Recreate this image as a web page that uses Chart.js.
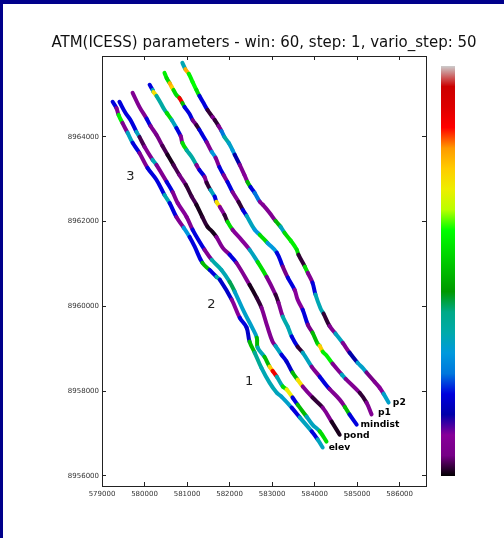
<!DOCTYPE html>
<html><head><meta charset="utf-8">
<style>
html,body{margin:0;padding:0;background:#fff;width:504px;height:538px;overflow:hidden}
#wrap{position:absolute;left:0;top:0;width:504px;height:538px;overflow:hidden}
#t{position:absolute;left:0;top:0;width:504px;height:4px;background:#00008b}
#l{position:absolute;left:0;top:0;width:3px;height:538px;background:#00008b}
</style>
<script src="https://cdn.jsdelivr.net/npm/chart.js@4"></script>
</head><body>
<div id="wrap"><canvas id="c" width="528" height="538"></canvas></div>
<div id="t"></div><div id="l"></div>
<script>
const titleText = "ATM(ICESS) parameters - win: 60, step: 1, vario_step: 50";
const xRange = [579000, 586620];
const yRange = [8955760, 8965910];
const xTicks = [579000,580000,581000,582000,583000,584000,585000,586000];
const yTicks = [8956000,8958000,8960000,8962000,8964000];

const p2X = [580890,580960,581040,581130,581220,581290,581410,581480,581600,581650,581740,581810,581880,581980,582070,582120,582240,582350,582420,582490,582590,582710,582780,582940,583080,583200,583290,583440,583580,583620,583770,583840,583950,584020,584140,584210,584350,584490,584660,584820,585010,585130,585220,585410,585530,585620,585740];
const p2Y = [8965750,8965600,8965490,8965300,8965110,8964970,8964760,8964640,8964470,8964400,8964260,8964140,8964000,8963860,8963690,8963580,8963340,8963100,8962940,8962820,8962680,8962470,8962400,8962210,8962020,8961880,8961740,8961550,8961340,8961220,8960940,8960790,8960560,8960280,8959950,8959830,8959540,8959360,8959140,8958910,8958670,8958550,8958440,8958220,8958080,8957940,8957730];
const p2V = [.34,.78,.58,.6,.55,.2,.2,.02,.08,.02,.08,.25,.36,.32,.3,.15,.08,.1,.5,.2,.25,.1,.08,.08,.5,.33,.55,.58,.55,.02,.55,.08,.2,.34,.34,.02,.08,.33,.08,.15,.32,.32,.05,.08,.1,.32,.32];

const p1X = [580470,580520,580590,580640,580680,580750,580820,580890,580940,581060,581130,581220,581290,581360,581460,581580,581670,581760,581860,581950,582070,582210,582310,582400,582590,582710,582890,583110,583250,583370,583530,583600,583720,583840,583950,584070,584120,584190,584280,584420,584640,584730,585060,585220,585340];
const p1Y = [8965510,8965390,8965270,8965180,8965110,8964990,8964920,8964800,8964710,8964540,8964400,8964280,8964170,8964050,8963880,8963650,8963510,8963290,8963100,8962940,8962700,8962470,8962280,8962140,8961810,8961690,8961500,8961270,8960940,8960680,8960390,8960160,8959920,8959570,8959380,8959120,8959070,8958930,8958840,8958650,8958390,8958290,8957960,8957730,8957450];
const p1V = [.58,.55,.78,.75,.55,.55,.87,.5,.2,.2,.05,.02,.2,.2,.08,.3,.08,.2,.08,.2,.08,.02,.2,.33,.3,.55,.3,.2,.05,.2,.1,.1,.2,.05,.5,.55,.75,.58,.58,.08,.33,.08,.02,.08,.2];

const mindistX = [580120,580190,580210,580280,580380,580470,580520,580640,580750,580850,580890,580990,581110,581220,581290,581410,581460,581550,581650,581690,581770,581880,581950,582070,582280,582470,582660,582870,583080,583150,583250,583370,583460,583600,583720,583930,584120,584280,584350,584590,584710,584820,584990];
const mindistY = [8965230,8965110,8965060,8964970,8964800,8964640,8964570,8964400,8964210,8964020,8963860,8963690,8963530,8963340,8963220,8963060,8962920,8962750,8962590,8962470,8962350,8962160,8962000,8961810,8961570,8961340,8961050,8960700,8960280,8960090,8959760,8959520,8959290,8959050,8958910,8958580,8958340,8958130,8958050,8957800,8957630,8957450,8957210];
const mindistV = [.2,.34,.72,.36,.36,.36,.55,.33,.2,.08,.55,.36,.36,.08,.2,.08,.02,.33,.2,.72,.1,.02,.55,.1,.1,.33,.55,.08,.02,.08,.35,.34,.2,.02,.33,.08,.2,.2,.08,.08,.5,.2,.2];

const pondX = [579720,579880,580050,580140,580280,580420,580540,580680,580820,580970,581110,581220,581360,581480,581580,581690,581840,582000,582160,582470,582640,582750,582890,583010,583080,583220,583340,583480,583600,583720,583950,584190,584400,584590];
const pondY = [8965040,8964710,8964430,8964260,8964050,8963790,8963580,8963340,8963100,8962870,8962590,8962400,8962110,8961880,8961780,8961640,8961380,8961220,8961030,8960510,8960200,8959970,8959520,8959170,8959070,8958860,8958700,8958440,8958270,8958110,8957850,8957610,8957280,8956970];
const pondV = [.08,.08,.2,.08,.05,.03,.01,.03,.05,.02,.03,.01,.02,.01,.01,.08,.08,.2,.08,.01,.02,.08,.08,.08,.33,.2,.18,.5,.72,.08,.02,.08,.01,.02];

const elevUpperX = [579410,579550,579670,579810,579880,580000,580190,580280,580520,580660,580780,580990,581130,581290,581410,581580,581810,582000,582120,582350,582520,582640,582660,582820,582940,583010,583110,583250,583340,583480,583600,583810,583950,584120,584280];
const elevUpperY = [8964830,8964570,8964400,8964120,8964000,8963770,8963460,8963340,8962940,8962700,8962440,8962110,8961810,8961530,8961340,8961100,8960860,8960580,8960350,8959850,8959520,8959260,8959030,8958810,8958580,8958480,8958340,8958110,8958040,8957850,8957680,8957400,8957210,8957050,8956810];
const elevUpperV = [.2,.2,.2,.33,.03,.08,.34,.08,.2,.08,.1,.08,.2,.2,.08,.35,.34,.42,.32,.32,.32,.5,.34,.5,.75,.87,.34,.55,.7,.2,.5,.33,.33,.55,.34];

const elevX = [579250,579340,579390,579480,579600,579720,579880,580070,580280,580470,580590,580750,580920,581060,581180,581360,581530,581690,581770,582050,582240,582400,582470,582590,582750,582940,583110,583220,583460,583650,583930,584070,584190];
const elevY = [8964830,8964680,8964520,8964330,8964100,8963860,8963620,8963270,8962990,8962630,8962440,8962110,8961860,8961640,8961410,8961030,8960860,8960700,8960630,8960160,8959730,8959500,8959170,8958910,8958550,8958200,8957960,8957870,8957610,8957380,8957050,8956860,8956670];
const elevV = [.2,.08,.58,.08,.33,.2,.08,.2,.2,.34,.2,.08,.3,.2,.2,.5,.2,.36,.18,.1,.2,.18,.5,.38,.34,.34,.33,.32,.2,.33,.2,.33,.5];

const noteTexts = ["p2","p1","mindist","pond","elev"];
const noteX = [585840,585490,585080,584680,584330];
const noteY = [8957730,8957500,8957210,8956950,8956670];
const trackNumbers = ["1","2","3"];
const trackNumberX = [582460,581570,579670];
const trackNumberY = [8958220,8960050,8963060];

const cmapPos = [0,.05,.1,.15,.2,.25,.3,.35,.4,.45,.5,.55,.6,.65,.7,.75,.8,.85,.9,.95,1];
const cmapRGB = [[0,0,0],[119,0,135],[135,0,153],[0,0,170],[0,0,221],[0,119,221],[0,153,221],[0,170,170],[0,170,135],[0,153,0],[0,187,0],[0,221,0],[0,255,0],[187,255,0],[238,238,0],[255,204,0],[255,153,0],[255,0,0],[221,0,0],[204,0,0],[204,204,204]];

function colorOf(v){
  let i=0; while(i<cmapPos.length-2 && v>cmapPos[i+1]) i++;
  const t=(v-cmapPos[i])/(cmapPos[i+1]-cmapPos[i]);
  const a=cmapRGB[i],b=cmapRGB[i+1];
  return `rgb(${a.map((c,k)=>Math.round(c+(b[k]-c)*t)).join(",")})`;
}
function track(xs,ys,vs){
  return {
    data: xs.map((x,i)=>({x,y:ys[i]})),
    showLine:true, pointRadius:0, pointHoverRadius:0, borderWidth:4, tension:0.4,
    borderCapStyle:'round', borderJoinStyle:'round', borderColor:colorOf(vs[0]),
    segment:{borderColor:ctx=>colorOf(vs[ctx.p0DataIndex])}
  };
}
const extras = {
  id:'extras',
  afterDraw(chart){
    const g=chart.ctx,sx=chart.scales.x,sy=chart.scales.y;
    g.save();
    g.fillStyle='#000'; g.font='bold 9.2px "DejaVu Sans"'; g.textBaseline='middle'; g.textAlign='left';
    noteTexts.forEach((s,i)=>g.fillText(s,sx.getPixelForValue(noteX[i]),sy.getPixelForValue(noteY[i])));
    g.fillStyle='#222'; g.font='13px "DejaVu Sans"'; g.textAlign='center';
    trackNumbers.forEach((s,i)=>g.fillText(s,sx.getPixelForValue(trackNumberX[i]),sy.getPixelForValue(trackNumberY[i])));
    const top=66,bot=476,gr=g.createLinearGradient(0,bot,0,top);
    cmapPos.forEach((p,i)=>gr.addColorStop(p,`rgb(${cmapRGB[i].join(",")})`));
    g.fillStyle=gr; g.fillRect(441,top,14,bot-top);
    g.restore();
  }
};
const axisBase = {
  type:'linear', border:{color:'#222',width:1},
  grid:{drawOnChartArea:false,drawTicks:true,tickLength:-4,color:'#222',tickWidth:1}
};
function xAxis(pos,show){
  return {...axisBase,position:pos,min:xRange[0],max:xRange[1],
    afterBuildTicks(s){s.ticks=xTicks.map(value=>({value}));},
    afterFit(s){s.height=pos==='bottom'?52:0;},
    ticks:{autoSkip:false,maxRotation:0,padding:8,color:'#333',font:{family:'"DejaVu Sans"',size:7},
      callback:v=>show?String(v):''}};
}
function yAxis(pos,show){
  return {...axisBase,position:pos,min:yRange[0],max:yRange[1],
    afterBuildTicks(s){s.ticks=yTicks.map(value=>({value}));},
    afterFit(s){s.width=102;},
    ticks:{autoSkip:false,padding:7,color:'#333',font:{family:'"DejaVu Sans"',size:7},
      callback:v=>show?String(v):''}};
}
new Chart(document.getElementById('c'),{
  type:'scatter',
  data:{datasets:[track(p2X,p2Y,p2V),track(p1X,p1Y,p1V),track(mindistX,mindistY,mindistV),track(pondX,pondY,pondV),track(elevUpperX,elevUpperY,elevUpperV),track(elevX,elevY,elevV)]},
  options:{
    responsive:false,animation:false,
    layout:{padding:0},
    plugins:{legend:{display:false},tooltip:{enabled:false},
      title:{display:true,text:titleText,color:'#111',align:'center',
        font:{family:'"DejaVu Sans"',size:15,weight:'normal',lineHeight:1.2},padding:{top:34,bottom:4}}},
    scales:{x:xAxis('bottom',true),y:yAxis('left',true),x2:xAxis('top',false),y2:yAxis('right',false)}
  },
  plugins:[extras]
});
</script>
</body></html>
